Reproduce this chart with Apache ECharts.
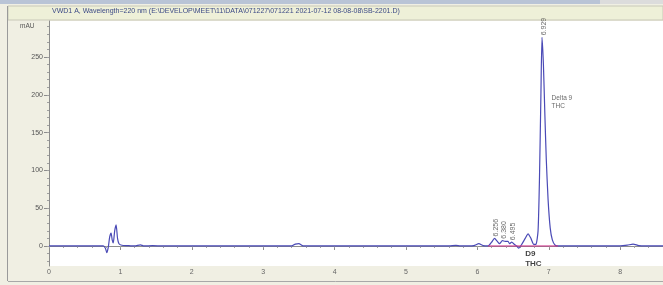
<!DOCTYPE html>
<html>
<head>
<meta charset="utf-8">
<script src="https://cdn.jsdelivr.net/npm/echarts@6/dist/echarts.min.js"></script>
<style>
  html, body { margin: 0; padding: 0; }
  #chart { width: 663px; height: 285px; }
</style>
</head>
<body>
<div id="chart"></div>
<script>
// retention time (min) and absorbance (mAU)
var times = [0, 0.5, 0.76, 0.79, 0.81, 0.83, 0.85, 0.87, 0.885, 0.9, 0.92, 0.94, 0.96, 0.98, 1.02, 1.1, 1.2, 1.28, 1.33, 1.45, 1.6,
    2.2, 2.6, 3.4, 3.45, 3.5, 3.56, 4.6, 5.0, 5.6, 5.7, 5.76, 5.95, 6.02, 6.08, 6.15, 6.2, 6.24, 6.28, 6.31, 6.35, 6.39,
    6.43, 6.45, 6.48, 6.52, 6.55, 6.58, 6.62, 6.67, 6.71, 6.75, 6.79, 6.82, 6.85, 6.87, 6.89, 6.905, 6.925, 6.945,
    6.965, 6.99, 7.02, 7.05, 7.09, 7.15, 8.0, 8.1, 8.18, 8.26, 8.35, 8.6];
var mAU = [0, 0.3, 0, -3, -9, -2, 12, 17, 8, 4, 20, 28, 10, 3, 1, 0.5, 0, 1.5, 0, 0.5, 0,
    0.3, 0, 0, 2.5, 3, 0, 0.3, 0, 0, 0.8, 0, 0.5, 3, 0.5, 0, 5, 10, 6, 3, 7, 6,
    6, 3, 5, 2, 0, -3, 2, 10, 16, 10, 2, 2, 20, 90, 200, 276, 240, 175,
    115, 62, 24, 8, 1, 0, 0, 1, 2.5, 0.5, 0, 0];

// integration baseline under the peak group
var baseStart = 6.15, baseEnd = 7.13;

// peak retention time labels
var rtTimes = [6.256, 6.380, 6.495, 6.929];
var rtHeights = [10, 7, 5, 276];

var xTicks = [0, 1, 2, 3, 4, 5, 6, 7, 8];
var yTicks = [0, 50, 100, 150, 200, 250];

var titleText = 'VWD1 A, Wavelength=220 nm (E:\\DEVELOP\\MEET\\11\\DATA\\071227\\071221 2021-07-12 08-08-08\\SB-2201.D)';

var xMinor = [], yMinor = [];
for (var i = 0; i <= 43; i++) xMinor.push(+(i * 0.2).toFixed(1));
for (var j = -20; j <= 290; j += 10) yMinor.push(j);

var trace = times.map(function (t, k) { return [t, mAU[k]]; });

var myChart = echarts.init(document.getElementById('chart'));
var option = {
    backgroundColor: '#f0efe3',
    animation: false,
    textStyle: { fontFamily: 'Liberation Sans' },
    grid: {
        left: 49, top: 21, right: 0, bottom: 19,
        show: true, backgroundColor: '#ffffff', borderWidth: 0
    },
    graphic: [
        { type: 'rect', shape: { x: 0, y: 0, width: 600, height: 4 }, style: { fill: '#b9c4d6' } },
        { type: 'rect', shape: { x: 600, y: 0, width: 63, height: 4 }, style: { fill: '#dcdcdc' } },
        { type: 'rect', shape: { x: 8, y: 6, width: 655, height: 14 }, style: { fill: '#eef0d8', stroke: '#c8c8b8', lineWidth: 1 } },
        { type: 'line', shape: { x1: 7.5, y1: 6, x2: 7.5, y2: 281 }, style: { stroke: '#9a9a9a', lineWidth: 1 } },
        { type: 'line', shape: { x1: 8, y1: 281.5, x2: 663, y2: 281.5 }, style: { stroke: '#a8a8a8', lineWidth: 1 } },
        { type: 'text', left: 52, top: 8, style: { text: titleText, fontSize: 7, fill: '#3c4a86', fontFamily: 'Liberation Sans' } },
        { type: 'text', left: 20, top: 23, style: { text: 'mAU', fontSize: 6.5, fill: '#555555', fontFamily: 'Liberation Sans' } }
    ],
    xAxis: [
        {
            type: 'value', min: 0, max: 8.6,
            axisLine: { lineStyle: { color: '#8c8c8c', width: 1 } },
            axisTick: { customValues: xTicks, length: 4, lineStyle: { color: '#8c8c8c' } },
            axisLabel: { customValues: xTicks, fontSize: 7, color: '#666666', margin: 3 },
            splitLine: { show: false }
        },
        {
            type: 'value', min: 0, max: 8.6, position: 'bottom',
            axisLine: { show: false },
            axisTick: { customValues: xMinor, length: 2, lineStyle: { color: '#a0a0a0' } },
            axisLabel: { show: false },
            splitLine: { show: false }
        }
    ],
    yAxis: [
        {
            type: 'value', min: -26.5, max: 297.6,
            axisLine: { show: true, lineStyle: { color: '#8c8c8c', width: 1 } },
            axisTick: { show: true, customValues: yTicks, length: 5, lineStyle: { color: '#8c8c8c' } },
            axisLabel: { customValues: yTicks, fontSize: 7, color: '#555555', margin: 6 },
            splitLine: { show: false }
        },
        {
            type: 'value', min: -26.5, max: 297.6, position: 'left',
            axisLine: { show: false },
            axisTick: { show: true, customValues: yMinor, length: 2, lineStyle: { color: '#a0a0a0' } },
            axisLabel: { show: false },
            splitLine: { show: false }
        }
    ],
    series: [
        {
            name: 'VWD1 A',
            type: 'line',
            data: trace,
            symbol: 'none',
            smooth: 0.2,
            lineStyle: { color: '#4a4ab6', width: 1.2 }
        },
        {
            name: 'baseline',
            type: 'line',
            data: [[baseStart, 0], [baseEnd, 0]],
            symbol: 'none',
            lineStyle: { color: '#d0308a', width: 1 }
        },
        {
            name: 'rt',
            type: 'scatter',
            symbolSize: 0,
            clip: false,
            data: rtTimes.map(function (t, k) { return [t, rtHeights[k]]; }),
            label: {
                show: true,
                position: 'top',
                distance: 2,
                rotate: 90,
                align: 'left',
                verticalAlign: 'middle',
                fontSize: 7,
                color: '#444444',
                formatter: function (p) { return p.value[0].toFixed(3); }
            }
        },
        {
            name: 'notes',
            type: 'scatter',
            symbolSize: 0,
            clip: false,
            data: [
                {
                    value: [6.67, 0],
                    label: {
                        show: true, position: 'bottom', align: 'left', verticalAlign: 'top', distance: 3,
                        fontSize: 8, fontWeight: 'bold', color: '#111111', lineHeight: 10,
                        formatter: 'D9\nTHC'
                    }
                },
                {
                    value: [7.04, 190],
                    label: {
                        show: true, position: 'right', align: 'left', verticalAlign: 'middle', distance: 0,
                        fontSize: 6.5, color: '#444444', lineHeight: 8,
                        formatter: 'Delta 9\nTHC'
                    }
                }
            ]
        }
    ]
};
myChart.setOption(option);
</script>
</body>
</html>
